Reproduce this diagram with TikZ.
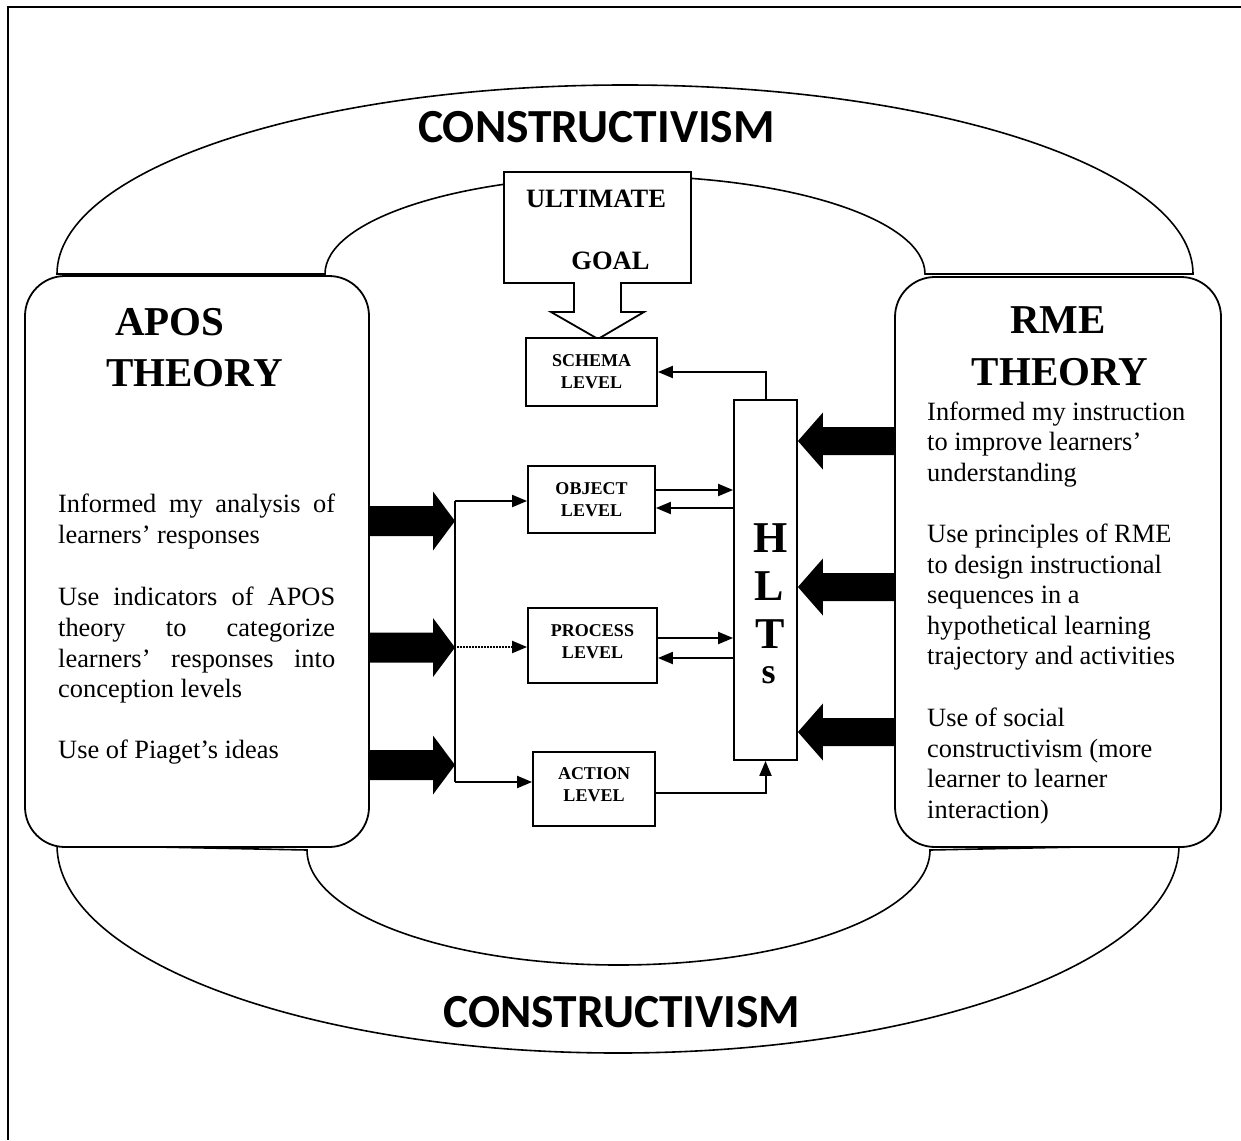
\documentclass[tikz,border=0pt]{standalone}
\usepackage{fontspec}
\setmainfont{Liberation Serif}
\newfontfamily\ctfont{Carlito}
\usetikzlibrary{arrows.meta,calc}

% horizontal block arrow: #1 start, #2 tip, #3 signed head length,
% #4 half shaft height, #5 half head height
\newcommand\blockarrow[5]{%
  \fill let \p1=(#1), \p2=(#2) in
    (\x1,{\y2+#4}) -- ({\x2-(#3)},{\y2+#4}) -- ({\x2-(#3)},{\y2+#5}) --
    (\x2,\y2) --
    ({\x2-(#3)},{\y2-#5}) -- ({\x2-(#3)},{\y2-#4}) -- (\x1,{\y2-#4}) -- cycle;}

\tikzset{
  frameline/.style={line width=2pt},
  archline/.style={line width=1.6pt},
  panel/.style={draw, line width=1.8pt, fill=white, rounded corners=40pt, inner sep=0pt},
  levelbox/.style={draw, line width=1.8pt, fill=white, inner sep=0pt, align=center,
    font=\fontsize{18}{22}\selectfont\bfseries},
  link/.style={line width=2pt, -{Triangle[length=15pt,width=12pt]}},
  plainlink/.style={line width=2pt},
  dotlink/.style={line width=2pt, densely dotted, -{Triangle[length=15pt,width=12pt]}},
  body/.style={anchor=base west, inner sep=0pt, font=\fontsize{26.4}{30.8}\selectfont},
  theory/.style={anchor=base, inner sep=0pt, font=\fontsize{41}{47}\selectfont\bfseries},
  ctitle/.style={anchor=base, inner sep=0pt, font=\ctfont\bfseries\fontsize{47.5}{55}\selectfont},
  goaltext/.style={anchor=base, inner sep=0pt, font=\fontsize{26.5}{30}\selectfont\bfseries},
  hltsletter/.style={anchor=base, inner sep=0pt, font=\fontsize{44}{48}\selectfont\bfseries},
}

\begin{document}
\begin{tikzpicture}[x=1pt,y=-1pt]
\useasboundingbox (0,0) rectangle (1241,1140);

% page frame (top and left edges)
\draw[frameline] (1241,7) -- (8,7) -- (8,1140);

% upper constructivism band
\draw[archline] (57,274) arc[start angle=180, end angle=0, x radius=568pt, y radius=189pt]
  -- (925,274) arc[start angle=0, end angle=180, x radius=300pt, y radius=98pt] -- cycle;

% lower constructivism band
\draw[archline] (57,845) -- (307,850)
  arc[start angle=180, end angle=360, x radius=311.5pt, y radius=115pt]
  -- (1179,845) arc[start angle=0, end angle=-180, x radius=561pt, y radius=208pt] -- cycle;

% theory panels
\node[panel, minimum width=344pt, minimum height=571pt] (apos) at (197,561.5) {};
\node[panel, minimum width=326pt, minimum height=570pt] (rme) at (1058,562) {};

% ultimate goal callout with its downward arrow
\draw[line width=1.8pt, fill=white] (504,172) -- (691,172) -- (691,283) -- (621,283)
  -- (621,312) -- (644,312) -- (598,339) -- (551,312) -- (574,312) -- (574,283)
  -- (504,283) -- cycle;
\node[goaltext] (ult) at (596,207) {ULTIMATE};
\node[goaltext] (goal) at (610.5,269) {GOAL};

% conception levels
\node[levelbox, minimum width=131pt, minimum height=68pt] (schema) at (591.5,372) {SCHEMA\\LEVEL};
\node[levelbox, minimum width=127pt, minimum height=67pt] (object) at (591.5,499.5) {OBJECT\\LEVEL};
\node[levelbox, minimum width=129pt, minimum height=75pt, text depth=8pt] (process) at (592.5,645.5) {PROCESS\\LEVEL};
\node[levelbox, minimum width=122pt, minimum height=74pt, text depth=8pt] (action) at (594,789) {ACTION\\LEVEL};

% hypothetical learning trajectories
\node[draw, line width=1.8pt, fill=white, minimum width=63pt, minimum height=360pt, inner sep=0pt] (hlts) at (765.5,580) {};
\node[hltsletter] (hH) at (771,552) {H};
\node[hltsletter] (hL) at (769,600) {L};
\node[hltsletter] (hT) at (770,648) {T};
\node[hltsletter, font=\fontsize{36}{40}\selectfont\bfseries] (hs) at (768.5,683) {s};

% distribution line to the levels
\coordinate (vtop) at (455,501);
\coordinate (vmid) at (457,647);
\coordinate (vbot) at (455,782);
\draw[plainlink] (vtop) -- (vbot);
\draw[link] (vtop) -- (vtop -| object.west);
\draw[dotlink] (vmid) -- (vmid -| process.west);
\draw[link] (vbot) -- (vbot -| action.west);

% exchanges between levels and HLTs
\coordinate (o1) at ($(object.east)+(0,-9.5)$);
\coordinate (o2) at ($(object.east)+(0,8.5)$);
\draw[link] (o1) -- (o1 -| hlts.west);
\draw[link] (o2 -| hlts.west) -- (o2);
\coordinate (p1) at ($(process.east)+(0,-7.5)$);
\coordinate (p2) at ($(process.east)+(0,12.5)$);
\draw[link] (p1) -- (p1 -| hlts.west);
\draw[link] (p2 -| hlts.west) -- (p2);
\coordinate (aout) at ($(action.east)+(0,4)$);
\draw[link] (aout) -| (hlts.south);
\draw[link] (hlts.north) |- (schema.east);

% block arrows from the theories
\blockarrow{apos.east |- 0,521}{vtop |- 0,521}{22pt}{15pt}{29.5pt}
\blockarrow{apos.east |- 0,647.5}{vtop |- 0,647.5}{22pt}{15pt}{29.5pt}
\blockarrow{apos.east |- 0,765}{vtop |- 0,765}{22pt}{15pt}{29.5pt}
\blockarrow{rme.west |- 0,441}{hlts.east |- 0,441}{-25pt}{14pt}{28.5pt}
\blockarrow{rme.west |- 0,587}{hlts.east |- 0,587}{-25pt}{14pt}{28.5pt}
\blockarrow{rme.west |- 0,732}{hlts.east |- 0,732}{-25pt}{14pt}{28.5pt}

% band titles
\node[ctitle] (ctop) at (596.5,142) {CONSTRUCTIVISM};
\node[ctitle] (cbot) at (622,1027) {CONSTRUCTIVISM};

% APOS panel
\node[theory] (apos1) at (170,335) {APOS};
\node[theory] (apos2) at (194.5,386) {THEORY};
\node[body] (a1) at (58,512) {\makebox[277pt][s]{Informed my analysis of}};
\node[body] (a2) at (58,543) {learners’ responses};
\node[body] (a3) at (58,605) {\makebox[277pt][s]{Use indicators of APOS}};
\node[body] (a4) at (58,636) {\makebox[277pt][s]{theory to categorize}};
\node[body] (a5) at (58,667) {\makebox[277pt][s]{learners’ responses into}};
\node[body] (a6) at (58,697) {conception levels};
\node[body] (a7) at (58,758) {Use of Piaget’s ideas};

% RME panel
\node[theory] (rme1) at (1058,333) {RME};
\node[theory] (rme2) at (1060,385) {THEORY};
\node[body] (r1) at (927,420) {Informed my instruction};
\node[body] (r2) at (927,450) {to improve learners’};
\node[body] (r3) at (927,481) {understanding};
\node[body] (r4) at (927,542) {Use principles of RME};
\node[body] (r5) at (927,573) {to design instructional};
\node[body] (r6) at (927,603) {sequences in a};
\node[body] (r7) at (927,634) {hypothetical learning};
\node[body] (r8) at (927,664) {trajectory and activities};
\node[body] (r9) at (927,726) {Use of social};
\node[body] (r10) at (927,757) {constructivism (more};
\node[body] (r11) at (927,787) {learner to learner};
\node[body] (r12) at (927,818) {interaction)};
\end{tikzpicture}
\end{document}
